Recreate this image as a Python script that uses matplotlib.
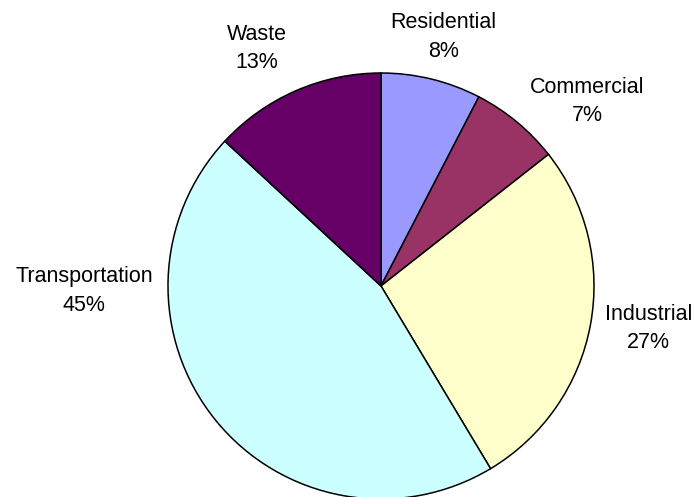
import matplotlib.pyplot as plt

plt.rcParams['font.family'] = ['Liberation Sans', 'DejaVu Sans']

sectors = ["Residential", "Commercial", "Industrial", "Transportation", "Waste"]
# slice sizes; the labels show the rounded figures
shares = [7.6, 6.8, 27.0, 45.5, 13.1]
pct_labels = [8, 7, 27, 45, 13]
colors = ["#9999FF", "#993366", "#FFFFCC", "#CCFFFF", "#660066"]

# label block centres in pixels, measured from the top-left corner
label_xy = [(443.5, 37), (587, 101.5), (648.5, 328.5), (84, 291), (256.5, 48.5)]

W, H = 696, 497


def main():
    fig = plt.figure(figsize=(W / 100, H / 100), dpi=100)
    ax = fig.add_axes([0, 0, 1, 1])

    ax.pie(shares, colors=colors, startangle=90, counterclock=False,
           center=(381, H - 286), radius=213,
           wedgeprops=dict(edgecolor="black", linewidth=1.1))

    for name, pct, (x, y) in zip(sectors, pct_labels, label_xy):
        ax.text(x, H - y, f"{name}\n{pct}%", ha="center", va="center",
                multialignment="center", fontsize=15.5, linespacing=1.45,
                color="black")

    ax.set_xlim(0, W)
    ax.set_ylim(0, H)
    ax.set_aspect("equal")
    ax.axis("off")

    fig.savefig("out.png", dpi=100, facecolor="white")


if __name__ == "__main__":
    main()
